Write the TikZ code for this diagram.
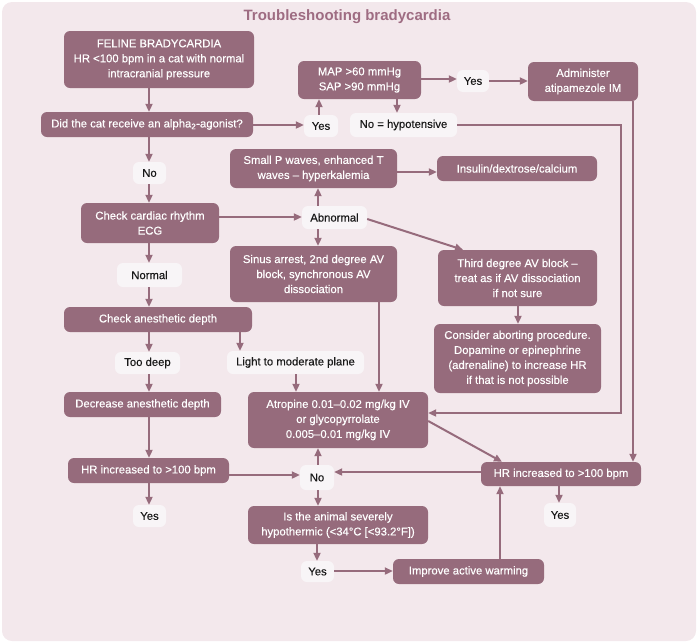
\documentclass[tikz,border=0pt]{standalone}
\usepackage{fontspec}
\setmainfont{Liberation Sans}
\newfontfamily\medfont[FakeBold=0.3]{Liberation Sans}
\usetikzlibrary{arrows.meta}
\definecolor{boxc}{RGB}{150,107,124}
\definecolor{panelc}{RGB}{243,232,236}
\definecolor{labc}{RGB}{248,245,247}
\definecolor{titlec}{RGB}{158,108,130}
\definecolor{labtext}{RGB}{25,25,25}
\tikzset{
  box/.style={fill=boxc, rounded corners=6pt, text=white, align=center, inner sep=0pt,
    font=\medfont\fontsize{11.3}{15}\selectfont},
  lab/.style={fill=labc, rounded corners=6pt, text=labtext, align=center, inner sep=0pt,
    font=\medfont\fontsize{11.3}{15}\selectfont},
  arr/.style={draw=boxc, line width=2pt, -{Triangle[length=8pt,width=7pt]}},
}
\begin{document}
\begin{tikzpicture}[x=1pt,y=-1pt]
\useasboundingbox (0,0) rectangle (698,643);
\fill[panelc, rounded corners=10pt] (2,2) rectangle (696,641);
\node[font=\bfseries\fontsize{15}{18}\selectfont, text=titlec] (title) at (347,17) {Troubleshooting bradycardia};

% boxes
\node[box, minimum width=190, minimum height=57] (feline) at (159,59.5) {FELINE BRADYCARDIA\\HR <100 bpm in a cat with normal\\intracranial pressure};
\node[box, minimum width=212, minimum height=25] (alpha) at (147,124.5) {Did the cat receive an alpha\textsubscript{2}-agonist?};
\node[lab, minimum width=34, minimum height=22] (yes1) at (321,126) {Yes};
\node[box, minimum width=123, minimum height=38] (map) at (359.5,80) {MAP >60 mmHg\\SAP >90 mmHg};
\node[lab, minimum width=32, minimum height=22] (yes2) at (473,81) {Yes};
\node[box, minimum width=110, minimum height=39] (admin) at (583,81.5) {Administer\\atipamezole IM};
\node[lab, minimum width=107, minimum height=24] (nohyp) at (403.5,125) {No = hypotensive};
\node[box, minimum width=167, minimum height=39] (smallp) at (313.5,168.5) {Small P waves, enhanced T\\waves – hyperkalemia};
\node[box, minimum width=160, minimum height=25] (insulin) at (517,168.5) {Insulin/dextrose/calcium};
\node[lab, minimum width=65, minimum height=23] (abnormal) at (334.5,217.5) {Abnormal};
\node[box, minimum width=167, minimum height=56] (sinus) at (313.5,274) {Sinus arrest, 2nd degree AV\\block, synchronous AV\\dissociation};
\node[box, minimum width=159, minimum height=56] (third) at (517.5,278) {Third degree AV block –\\treat as if AV dissociation\\if not sure};
\node[box, minimum width=167, minimum height=69] (consider) at (517.5,358.5) {Consider aborting procedure.\\Dopamine or epinephrine\\(adrenaline) to increase HR\\if that is not possible};
\node[box, minimum width=138, minimum height=40] (cardiac) at (150,223) {Check cardiac rhythm\\ECG};
\node[lab, minimum width=33, minimum height=22] (no1) at (149.5,173) {No};
\node[lab, minimum width=65, minimum height=24] (normal) at (149.5,275) {Normal};
\node[box, minimum width=188, minimum height=25] (anes) at (158,319.5) {Check anesthetic depth};
\node[lab, minimum width=65, minimum height=22] (toodeep) at (147.5,363) {Too deep};
\node[lab, minimum width=137, minimum height=23] (light) at (295.5,362.5) {Light to moderate plane};
\node[box, minimum width=157, minimum height=25] (decrease) at (142.5,404.5) {Decrease anesthetic depth};
\node[box, minimum width=180, minimum height=56] (atropine) at (338,420) {Atropine 0.01–0.02 mg/kg IV\\or glycopyrrolate\\0.005–0.01 mg/kg IV};
\node[box, minimum width=161, minimum height=25] (hr1) at (148.5,470.5) {HR increased to >100 bpm};
\node[lab, minimum width=34, minimum height=25] (no2) at (317,477.5) {No};
\node[lab, minimum width=33, minimum height=22] (yesa) at (149.5,516) {Yes};
\node[box, minimum width=160, minimum height=24] (hr2) at (561,474) {HR increased to >100 bpm};
\node[lab, minimum width=32, minimum height=24] (yesb) at (560,515) {Yes};
\node[box, minimum width=180, minimum height=38] (hypo) at (338,525) {Is the animal severely\\hypothermic (<34°C [<93.2°F])};
\node[lab, minimum width=33, minimum height=21] (yesc) at (317.5,571.5) {Yes};
\node[box, minimum width=151, minimum height=25] (improve) at (468.5,571.5) {Improve active warming};

% connectors
\draw[arr] (feline.south -| 149,0) -- (alpha.north -| 149,0);
\draw[arr] (alpha.east |- 0,125) -- (yes1.west |- 0,125);
\draw[arr] (yes1.north -| 319,0) -- (map.south -| 319,0);
\draw[arr] (map.east |- 0,79) -- (yes2.west |- 0,79);
\draw[arr] (yes2.east |- 0,81) -- (admin.west |- 0,81);
\draw[arr] (map.south -| 397,0) -- (nohyp.north -| 397,0);
\draw[arr] (admin.south -| 633,0) -- (hr2.north -| 633,0);
\draw[arr] (nohyp.east) -- (621,125) -- (621,413) -- (atropine.east |- 0,413);
\draw[arr] (alpha.south -| 149,0) -- (no1.north -| 149,0);
\draw[arr] (no1.south -| 149,0) -- (cardiac.north -| 149,0);
\draw[arr] (cardiac.east |- 0,217) -- (abnormal.west |- 0,217);
\draw[arr] (abnormal.north -| 318,0) -- (smallp.south -| 318,0);
\draw[arr] (abnormal.south -| 318,0) -- (sinus.north -| 318,0);
\draw[arr] (smallp.east |- 0,172) -- (insulin.west |- 0,172);
\draw[arr] (abnormal.east |- 0,219) -- (third.north -| 463,0);
\draw[arr] (sinus.south -| 379,0) -- (atropine.north -| 379,0);
\draw[arr] (third.south -| 518,0) -- (consider.north -| 518,0);
\draw[arr] (cardiac.south -| 149,0) -- (normal.north -| 149,0);
\draw[arr] (normal.south -| 149,0) -- (anes.north -| 149,0);
\draw[arr] (anes.south -| 149,0) -- (toodeep.north -| 149,0);
\draw[arr] (anes.south -| 240,0) -- (light.north -| 240,0);
\draw[arr] (light.south -| 296,0) -- (atropine.north -| 296,0);
\draw[arr] (toodeep.south -| 149,0) -- (decrease.north -| 149,0);
\draw[arr] (decrease.south -| 149,0) -- (hr1.north -| 149,0);
\draw[arr] (hr1.east |- 0,475) -- (no2.west |- 0,475);
\draw[arr] (no2.north -| 318,0) -- (atropine.south -| 318,0);
\draw[arr] (no2.south -| 318,0) -- (hypo.north -| 318,0);
\draw[arr] (hr1.south -| 149,0) -- (yesa.north -| 149,0);
\draw[arr] (atropine.east |- 0,421) -- (hr2.north -| 502,0);
\draw[arr] (hr2.west |- 0,472) -- (no2.east |- 0,472);
\draw[arr] (hr2.south -| 559,0) -- (yesb.north -| 559,0);
\draw[arr] (hypo.south -| 317,0) -- (yesc.north -| 317,0);
\draw[arr] (yesc.east |- 0,571) -- (improve.west |- 0,571);
\draw[arr] (improve.north -| 500,0) -- (hr2.south -| 500,0);
\end{tikzpicture}
\end{document}
